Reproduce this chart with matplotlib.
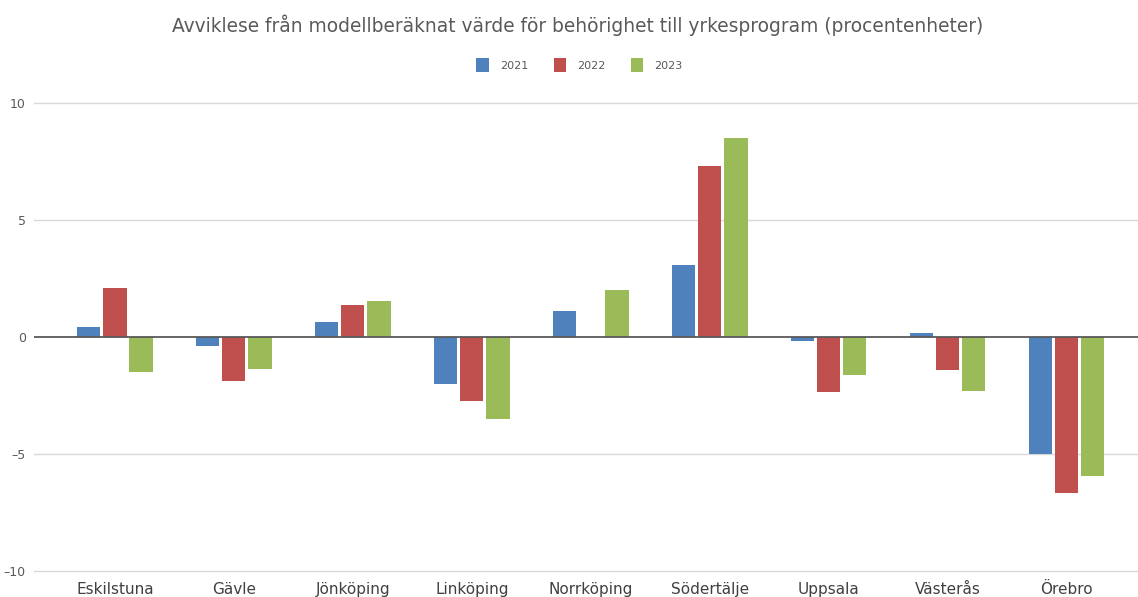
import numpy as np
import matplotlib
matplotlib.use("Agg")
import matplotlib.pyplot as plt

cities = ["Eskilstuna", "Gävle", "Jönköping", "Linköping", "Norrköping",
          "Södertälje", "Uppsala", "Västerås", "Örebro"]
years = ["2021", "2022", "2023"]
v2021 = [0.43, -0.40, 0.64, -2.00, 1.11, 3.08, -0.17, 0.17, -5.00]
v2022 = [2.10, -1.88, 1.37, -2.73, 0.00, 7.30, -2.35, -1.41, -6.67]
v2023 = [-1.50, -1.37, 1.54, -3.50, 2.02, 8.50, -1.62, -2.30, -5.94]
y_ticks = [-10, -5, 0, 5, 10]

colors = ["#4F81BD", "#C0504D", "#9BBB59"]

fig = plt.figure(figsize=(11.38, 5.97), dpi=100)
ax = fig.add_axes([0.0299, 0.0436, 0.9701, 0.784])

x = np.arange(len(cities))
width = 0.195
step = 0.22
for i, (vals, year) in enumerate(zip([v2021, v2022, v2023], years)):
    ax.bar(x + (i - 1) * step, vals, width=width, color=colors[i],
           label=year, zorder=3, linewidth=0)

ax.set_ylim(-10, 10)
ax.set_xlim(-0.68, 8.6)
ax.set_yticks(y_ticks)
ax.set_yticklabels([str(t).replace("-", "\u2013") for t in y_ticks])
ax.set_xticks(x)
ax.set_xticklabels(cities)

# gridlines drawn by hand so the outer ones are not clipped
for t in y_ticks:
    if t == 0:
        continue
    ax.axhline(t, color="#d9d9d9", linewidth=1.0, zorder=1, clip_on=False)
ax.axhline(0, color="#595959", linewidth=1.3, zorder=4)

for spine in ax.spines.values():
    spine.set_visible(False)
ax.tick_params(axis="y", length=0, pad=6, labelsize=9, labelcolor="#595959")
ax.tick_params(axis="x", length=0, pad=8, labelsize=11, labelcolor="#404040")

fig.text(0.508, 0.958, "Avviklese från modellberäknat värde för behörighet till yrkesprogram (procentenheter)",
         ha="center", va="center", fontsize=13.4, color="#595959")

ax.legend(loc="center", bbox_to_anchor=(0.494, 1.081), ncol=3, frameon=False,
          fontsize=8, handlelength=1.1, handleheight=1.5, columnspacing=2.3,
          handletextpad=1.0, labelcolor="#595959")

fig.savefig("out.png", dpi=100)
